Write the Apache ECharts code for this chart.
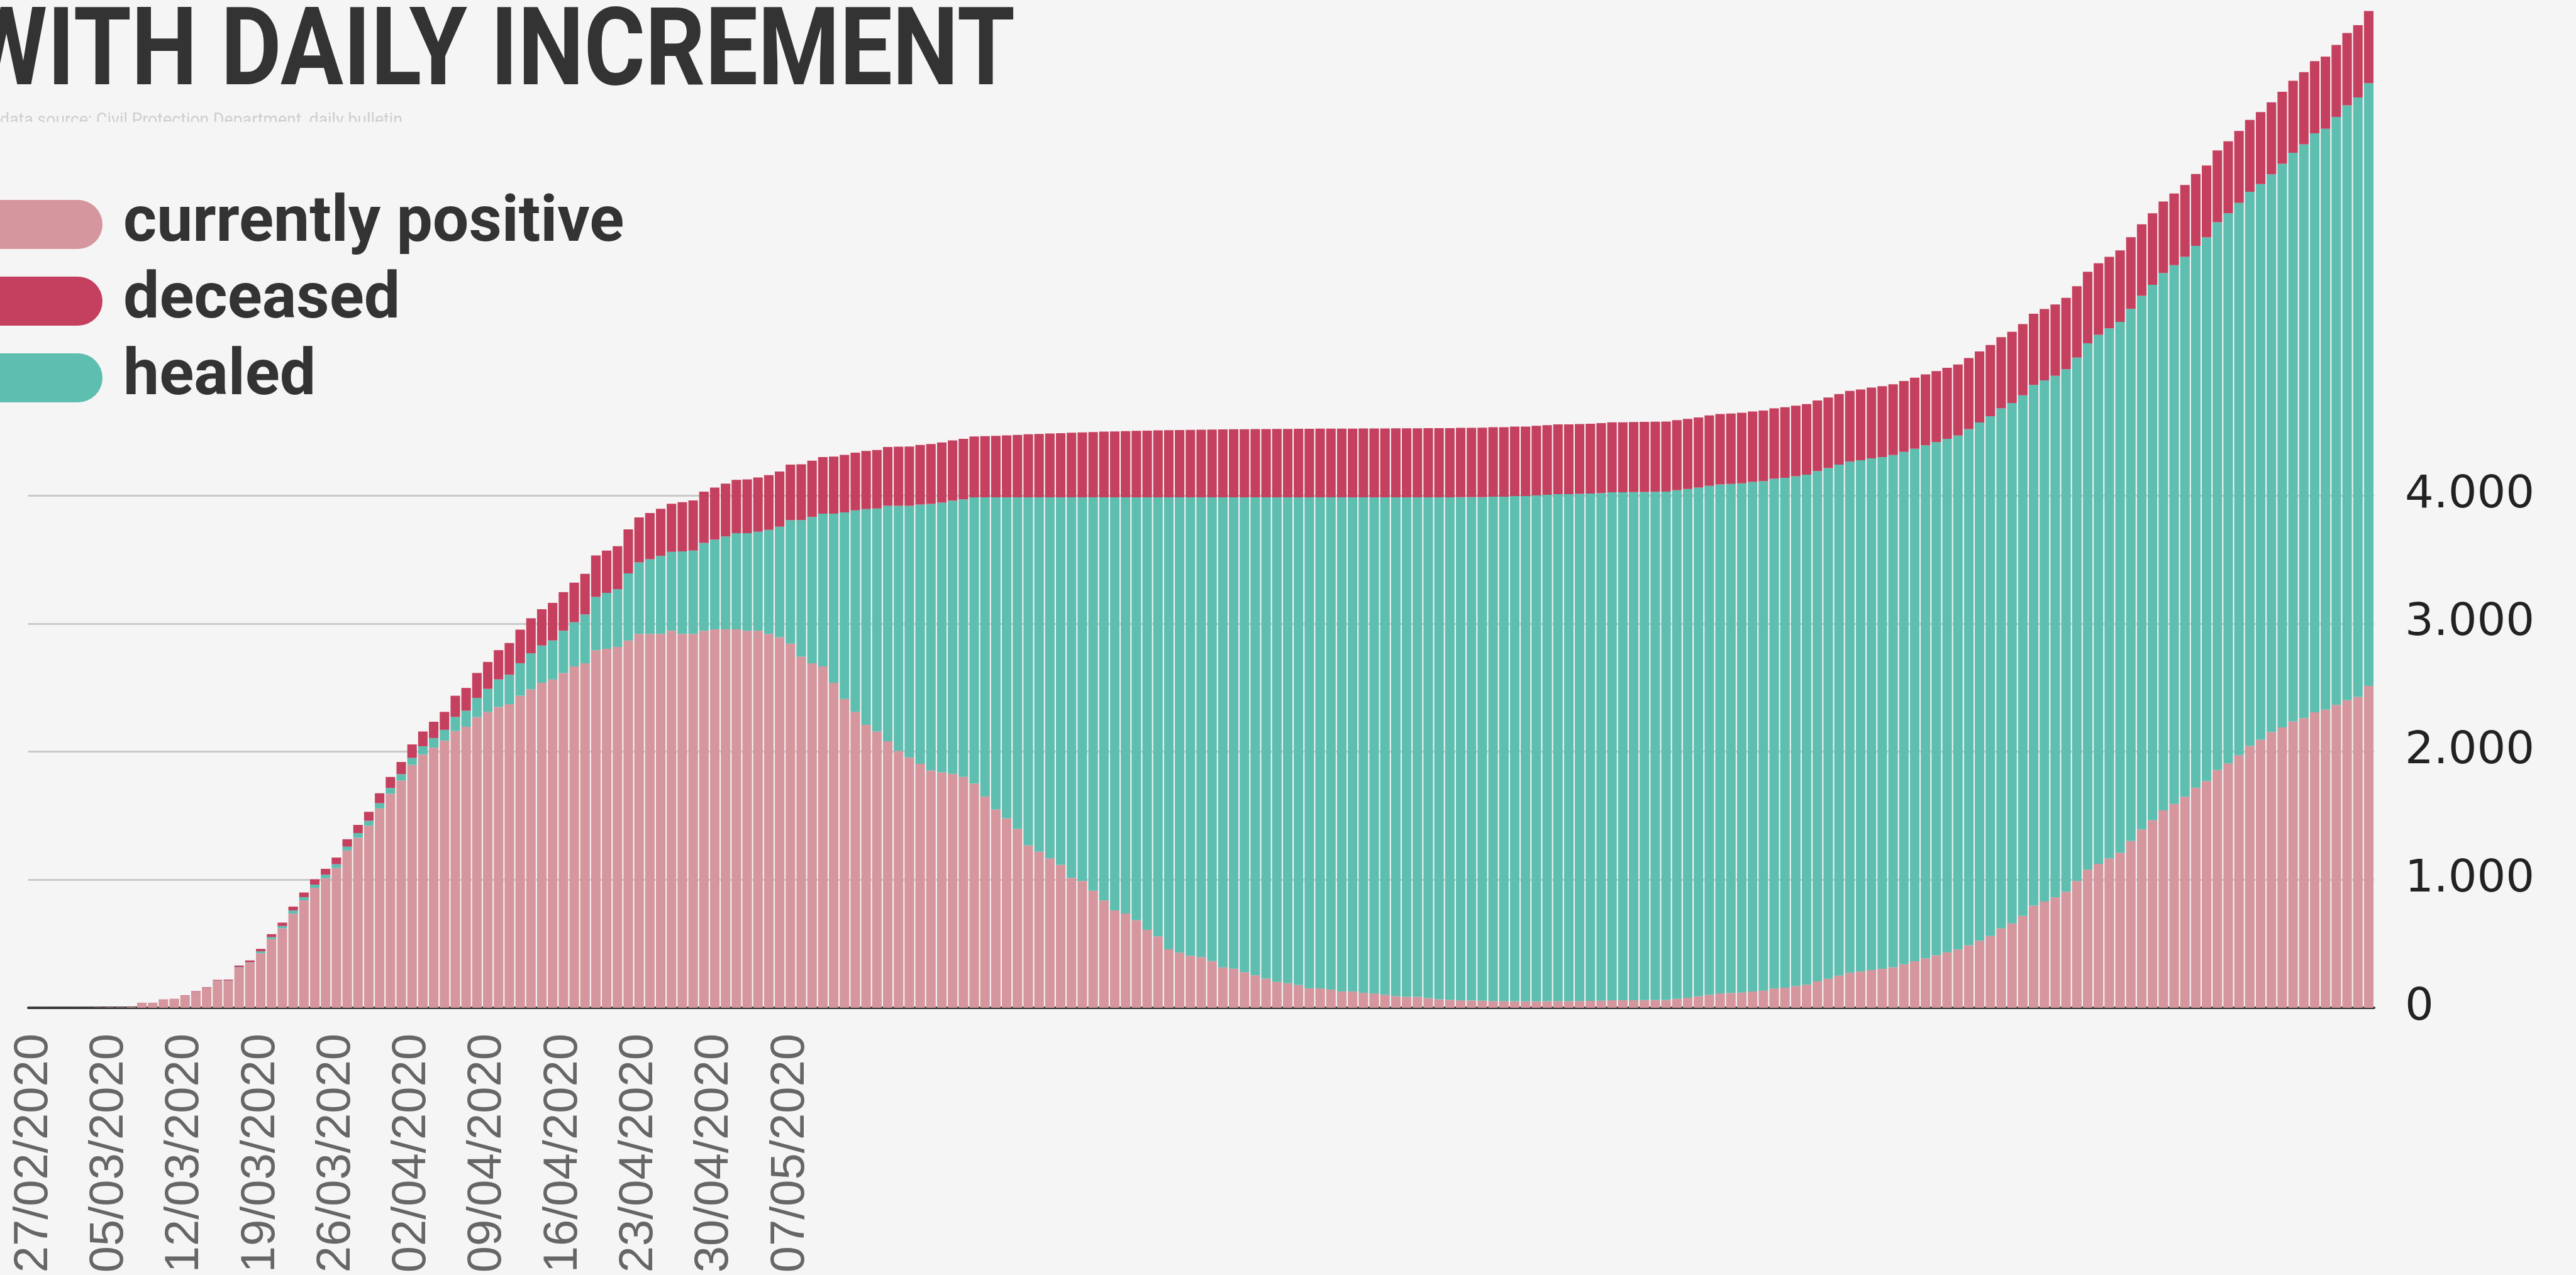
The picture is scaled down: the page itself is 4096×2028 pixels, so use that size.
<!DOCTYPE html>
<html>
<head>
<meta charset="utf-8">
<script src="https://cdn.jsdelivr.net/npm/echarts@6/dist/echarts.min.js"></script>
<style>
  html, body { margin: 0; padding: 0; background: #f5f5f5; }
  #chart { width: 4096px; height: 2028px; }
</style>
</head>
<body>
<div id="chart"></div>
<script>
(function() {

// daily values from 27/02/2020, one entry per day
const positive = [1,1,1,1,1,1,2,3,3,5,
    40,40,62,66,92,124,152,210,210,315,
    352,426,536,621,735,839,937,1012,1091,1228,
    1328,1422,1557,1671,1774,1896,1977,2031,2085,2161,
    2194,2269,2310,2349,
    2370,2436,2487,2538,2563,2614,
    2665,2690,2792,2802,2817,2868,2919,2919,2919,2944,
    2919,2919,2944,2954,2954,2954,2944,2944,2919,2893,
    2843,2741,2690,2665,2538,2411,2310,2208,2157,2081,
    2005,1954,1904,1853,1838,1827,1802,1751,
    1650,1548,1480,1396,1269,1218,1167,1117,1015,990,
    914,838,761,736,685,609,558,457,431,406,
    396,365,315,305,279,254,228,203,193,178,
    152,152,142,127,127,117,112,102,91,86,
    86,76,66,61,
    58,56,55,53,52,51,50,50,51,52,
    52,53,54,55,59,59,59,60,60,61,
    70,79,89,102,112,115,119,128,134,151,
    157,169,180,206,227,252,274,283,295,304,
    317,340,363,387,410,433,455,
    488,524,561,620,659,718,797,830,862,907,
    990,1078,1124,1167,1210,1302,1393,1464,1541,1592,
    1648,1719,1770,1857,1908,1972,2045,2093,2152,2189,
    2235,2261,2307,2328,2364,2401,2427,2513]

const healed = [0,0,0,0,0,0,0,0,0,0,0,0,0,
    1,1,1,2,2,2,3,3,
    15,16,18,25,25,25,27,30,30,
    36,38,40,45,50,55,65,75,85,110,
    125,150,180,215,
    230,254,280,290,305,330,
    345,381,416,437,450,523,558,583,609,615,
    644,650,685,701,726,751,761,772,812,863,
    964,1066,1142,1193,1320,1457,1573,1685,1741,1838,
    1914,1965,2025,2081,2106,2132,2167,2234,
    2335,2437,2505,2589,2716,2767,2818,2868,2970,2995,
    3071,3147,3224,3249,3300,3376,3427,3528,3554,3579,
    3589,3620,3670,3680,3706,3731,3757,3782,3792,3807,
    3833,3833,3843,3858,3858,3868,3873,3883,3894,3899,
    3899,3909,3919,3924,
    3928,3930,3932,3937,3938,3944,3945,3950,3954,3958,
    3958,3959,3961,3963,3966,3966,3967,3967,3968,3969,
    3970,3971,3972,3973,3974,3975,3976,3977,3978,3979,
    3980,3981,3982,3984,3986,3988,3990,3992,3994,3996,
    3998,4000,4002,4004,4006,4009,4012,
    4030,4045,4058,4060,4062,4064,4066,4068,4072,4078,
    4086,4110,4130,4137,4145,4155,4165,4180,4195,4205,
    4215,4230,4245,4275,4295,4312,4325,4338,4355,4400,
    4440,4480,4520,4535,4590,4645,4680,4705]

const deceased = [0,0,0,0,0,0,0,0,0,0,0,0,
    3,3,4,5,6,6,8,12,15,
    19,23,26,30,36,41,46,52,58,
    64,70,78,86,95,105,115,127,140,165,
    178,195,210,228,
    248,262,274,284,293,301,
    309,317,323,330,337,344,351,360,368,376,
    384,392,400,406,412,416,420,424,427,430,
    433,436,439,442,445,448,451,454,457,459,
    461,463,465,467,469,471,473,475,
    477,480,484,488,492,495,498,501,504,507,
    510,513,515,517,519,521,523,524,526,527,
    528,529,530,531,532,533,533,534,534,535,
    535,536,536,537,537,538,538,538,539,539,
    539,540,540,540,
    541,541,542,542,543,543,543,544,544,544,545,545,545,546,546,546,547,547,547,
    547,548,548,548,549,549,549,550,550,550,550,551,551,551,551,552,552,552,552,553,553,553,553,554,554,
    554,554,555,555,555,555,556,556,556,556,557,557,557,557,558,558,558,558,559,559,
    559,559,560,560,560,560,561,561,561,561,562,562,562,562,563,563,563,563,564,564,564]

// only these dates get a label on the x axis
const tickLabels = ['27/02/2020','05/03/2020','12/03/2020','19/03/2020','26/03/2020',
    '02/04/2020','09/04/2020','16/04/2020','23/04/2020','30/04/2020','07/05/2020']

const seriesNames = ['currently positive', 'deceased', 'healed']
const colors = { positive: '#d5969d', healed: '#5ebeb0', deceased: '#c4405e' }

// one category per day
let days = []
let start = Date.UTC(2020, 1, 27)
for (let i = 0; i < positive.length; i++) {
    let d = new Date(start + i * 86400000)
    let dd = String(d.getUTCDate()).padStart(2, '0')
    let mm = String(d.getUTCMonth() + 1).padStart(2, '0')
    days.push(dd + '/' + mm + '/' + d.getUTCFullYear())
}

// squeeze text horizontally so it spans the wanted width
let measureCtx = document.createElement('canvas').getContext('2d')
function fitScale(text, font, width) {
    measureCtx.font = font
    return width / measureCtx.measureText(text).width
}

const titleText = 'WITH DAILY INCREMENT'
const titleFont = 'bold 173px Roboto'
const subText = 'data source: Civil Protection Department, daily bulletin'
const subFont = '30px Roboto'

let chart = echarts.init(document.getElementById('chart'), null, { renderer: 'canvas' })

let option = {
    backgroundColor: '#f5f5f5',
    animation: false,
    grid: {
        left: 45,
        right: 321,
        top: 788,
        bottom: 425,
        outerBoundsMode: 'none'
    },
    legend: {
        orient: 'vertical',
        left: -62,
        top: 301,
        itemWidth: 220,
        itemHeight: 78,
        itemGap: 20,
        icon: 'path://M39,0 H181 A39,39 0 0 1 181,78 H39 A39,39 0 0 1 39,0 Z',
        selectedMode: false,
        textStyle: {
            fontFamily: 'Roboto',
            fontWeight: 'bold',
            fontSize: 102,
            lineHeight: 78,
            color: '#333',
            padding: [0, 0, 0, 28]
        },
        data: seriesNames
    },
    graphic: [
        {
            type: 'text',
            x: -55,
            y: 91,
            scaleX: fitScale(titleText, titleFont, 1669),
            style: { text: titleText, font: titleFont, fill: '#333', verticalAlign: 'middle' }
        },
        {
            type: 'text',
            x: 0,
            y: 192,
            scaleX: fitScale(subText, subFont, 640),
            style: { text: subText, font: subFont, fill: '#cfcfcf', verticalAlign: 'middle' }
        },
        {
            // the line under the title is cut in half in the original
            type: 'rect',
            shape: { x: 0, y: 194, width: 700, height: 30 },
            style: { fill: '#f5f5f5' }
        }
    ],
    xAxis: {
        type: 'category',
        data: days,
        axisLine: { lineStyle: { color: '#333', width: 4 } },
        axisTick: { show: false },
        axisLabel: {
            rotate: 90,
            margin: 41,
            fontSize: 76,
            fontFamily: 'Liberation Sans',
            color: '#666',
            interval: (idx, value) => tickLabels.indexOf(value) >= 0
        }
    },
    yAxis: {
        type: 'value',
        position: 'right',
        min: 0,
        max: 4000,
        interval: 1000,
        axisLine: { show: false },
        axisTick: { show: false },
        splitLine: { lineStyle: { color: '#c9c9c9', width: 3 } },
        axisLabel: {
            margin: 49,
            fontSize: 72,
            fontFamily: 'DejaVu Sans',
            color: '#222',
            formatter: v => String(v).replace(/\B(?=(\d{3})+(?!\d))/g, '.')
        }
    },
    series: [
        {
            name: 'currently positive',
            type: 'bar',
            stack: 'cases',
            clip: false,
            barCategoryGap: '12%',
            itemStyle: { color: colors.positive },
            data: positive
        },
        {
            name: 'healed',
            type: 'bar',
            stack: 'cases',
            clip: false,
            itemStyle: { color: colors.healed },
            data: healed
        },
        {
            name: 'deceased',
            type: 'bar',
            stack: 'cases',
            clip: false,
            itemStyle: { color: colors.deceased },
            data: deceased
        }
    ]
}

chart.setOption(option)

})()
</script>
</body>
</html>
